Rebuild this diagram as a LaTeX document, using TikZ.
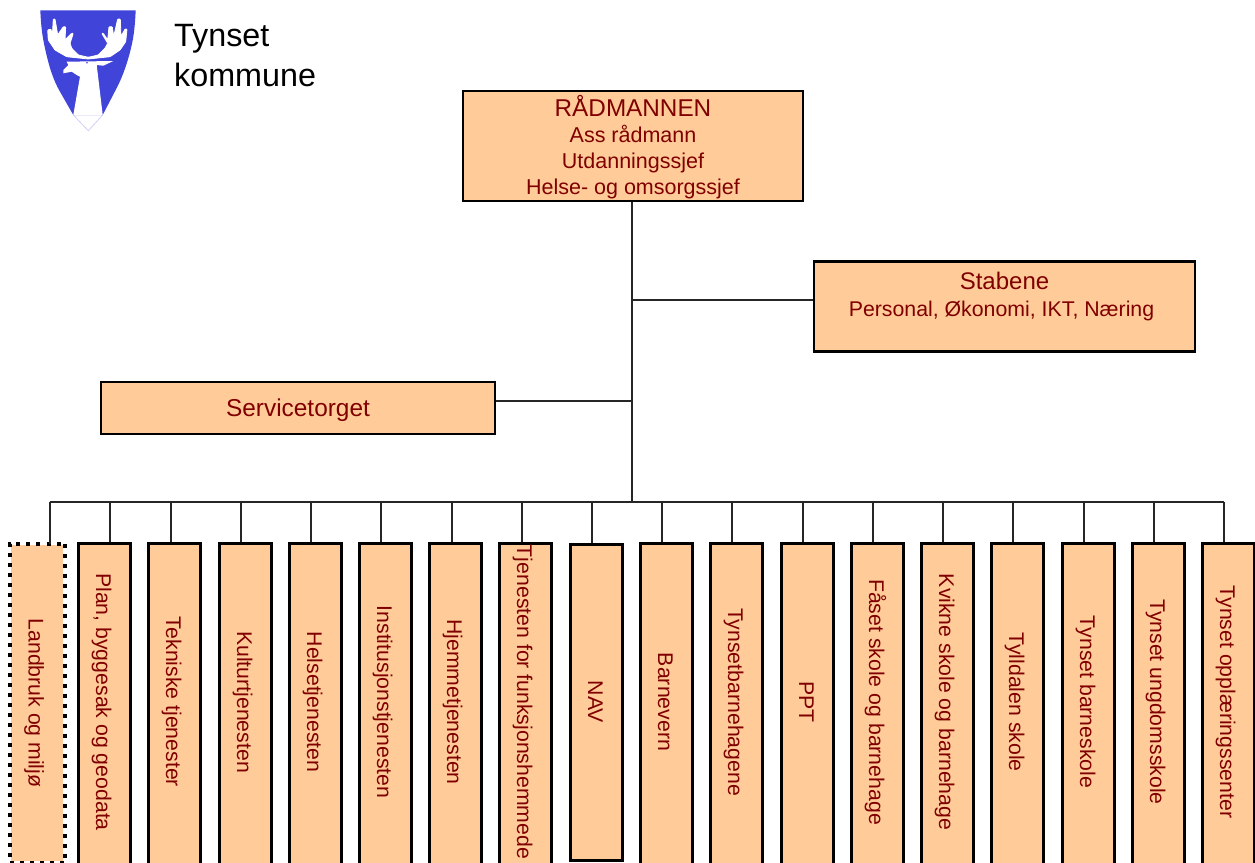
\documentclass[tikz,border=0pt]{standalone}
\usepackage{fontspec}
\setmainfont{Liberation Sans}
\definecolor{colorBox}{HTML}{FFCC99}
\definecolor{colorText}{HTML}{800000}
\definecolor{colorShield}{HTML}{4044D8}
\newcommand{\bartext}[1]{\makebox[318pt]{#1}\hspace*{30pt}}
\tikzset{
  headbox/.style={draw=black, fill=colorBox, text=colorText, line width=2.4pt, align=center, inner sep=0pt},
  bar/.style={draw=black, fill=colorBox, text=colorText, line width=3pt, rotate=-90, anchor=west, inner sep=0pt, minimum height=52pt, text height=17pt, text depth=0pt, font=\fontsize{21.25}{25}\selectfont},
  link/.style={line width=2pt, color=black!85}
}
\begin{document}
\begin{tikzpicture}[x=1pt, y=-1pt]
\useasboundingbox (0,0) rectangle (1255,862);
\clip (0,0) rectangle (1255,862);
% logo
\fill[colorShield] (40.3,10.3) -- (135.7,10.3) .. controls (135,25) and (134,35) .. (131.7,45) .. controls (128,62) and (122,78) .. (116.7,88) -- (102.7,115) -- (73.3,115) -- (60,91.7) .. controls (52,78) and (48,62) .. (45,48.3) .. controls (42,35) and (41,25) .. (40.3,10.3) -- cycle;
\draw[colorShield!25, line width=0.8pt] (73.3,115) -- (88.3,130.7) -- (102.7,115);
\filldraw[white, line width=0.8pt, rounded corners=0.8pt] (47.7,30) -- (51,29) -- (52.3,36.7) -- (53.3,19) -- (55,19) -- (57.7,35) -- (63.3,26.7) -- (65.7,26.7) -- (65,40) -- (71.7,33.3) -- (73.3,33.3) -- (70,43.3) -- (71.7,48.3) -- (78.3,55) -- (88.3,57.3) -- (98.3,55) -- (105,48.3) -- (107.7,43.3) -- (101.7,33.3) -- (103.3,33.3) -- (107.7,40) -- (109,26.7) -- (112.3,26.7) -- (113.7,36.7) -- (117.7,19) -- (120.3,19) -- (121,36.7) -- (125,29) -- (127,29) -- (125.7,41.7) -- (120,50) -- (110,56.7) -- (88.3,59) -- (66.7,56.7) -- (55,50) -- (48.3,40) -- cycle;
\fill[white] (66.7,61.7) -- (113.3,61) -- (103.3,65.7) -- (96.7,65) -- (102.7,115) -- (73.3,115) -- (80,76.7) -- (76.7,75) -- (71.7,71.7) -- (63.3,73.3) -- (63.3,70) -- (68.3,65) -- cycle;
\fill[colorShield] (87,62.7) circle (0.9);
\node[anchor=west, align=left, inner sep=0pt, font=\fontsize{32.3}{40}\selectfont] (kommune) at (174,56) {Tynset\\kommune};
% top boxes
\node[headbox, minimum width=340pt, minimum height=110pt, text depth=2pt, font=\fontsize{21.5}{26}\selectfont] (radmann) at (633,146) {{\fontsize{24.3}{26}\selectfont RÅDMANNEN}\\Ass rådmann\\Utdanningssjef\\Helse- og omsorgssjef};
\node[headbox, minimum width=381pt, minimum height=90pt, font=\fontsize{21.3}{27}\selectfont] (stab) at (1004.5,306.5) {{\fontsize{24}{27}\selectfont Stabene}\\Personal, Økonomi, IKT,~Næring\rule{6pt}{0pt}\\[-3pt]\mbox{}};
\node[headbox, minimum width=394pt, minimum height=52pt, text depth=1pt, font=\fontsize{24.4}{28}\selectfont] (service) at (298,408) {Servicetorget};
% bars
\node[bar, draw=none, minimum width=316pt] (landbruk) at (37,543.5) {\makebox[316pt]{Landbruk og miljø}};
\draw[black, line width=4pt, dash pattern=on 4pt off 6pt] (landbruk.north west) rectangle (landbruk.south east);
\node[bar] (plan) at (104.5,541.5) {\bartext{Plan, byggesak og geodata}};
\node[bar] (teknisk) at (174.5,541.5) {\bartext{Tekniske tjenester}};
\node[bar] (kultur) at (245.5,541.5) {\bartext{Kulturtjenesten}};
\node[bar] (helse) at (315.5,541.5) {\bartext{Helsetjenesten}};
\node[bar] (institusjon) at (385.5,541.5) {\bartext{Institusjonstjenesten}};
\node[bar] (hjemme) at (455.5,541.5) {\bartext{Hjemmetjenesten}};
\node[bar] (funksjon) at (525.5,541.5) {\bartext{Tjenesten for funksjonshemmede}};
\node[bar, minimum width=316pt] (nav) at (596.5,542.5) {\makebox[316pt]{NAV}};
\node[bar] (barnevern) at (666.5,541.5) {\bartext{Barnevern}};
\node[bar] (barnehage) at (736.5,541.5) {\bartext{Tynsetbarnehagene}};
\node[bar] (ppt) at (807.5,541.5) {\bartext{PPT}};
\node[bar] (faaset) at (877.5,541.5) {\bartext{Fåset skole og barnehage}};
\node[bar] (kvikne) at (947.5,541.5) {\bartext{Kvikne skole og barnehage}};
\node[bar] (tylldal) at (1017.5,541.5) {\bartext{Tylldalen skole}};
\node[bar] (barneskole) at (1088.5,541.5) {\bartext{Tynset barneskole}};
\node[bar] (ungdom) at (1158.5,541.5) {\bartext{Tynset ungdomsskole}};
\node[bar] (opplaering) at (1228.5,541.5) {\bartext{Tynset opplæringssenter}};
% lines
\coordinate (hub) at (632,502);
\coordinate (busl) at (50,502);
\coordinate (busr) at (1224,502);
\draw[link] (radmann.south -| hub) -- (hub);
\draw[link] (hub |- 0,300) -- (stab.west |- 0,300);
\draw[link] (hub |- 0,401) -- (service.east |- 0,401);
\draw[link] (busl) -- (busr);
\foreach \name/\xpos in {landbruk/50, plan/110, teknisk/171, kultur/241, helse/311, institusjon/381, hjemme/452, funksjon/522, nav/592, barnevern/662, barnehage/732, ppt/803, faaset/873, kvikne/943, tylldal/1013, barneskole/1084, ungdom/1154, opplaering/1224}
  \draw[link] (\xpos,502) -- (\xpos,502 |- \name.west);
\end{tikzpicture}
\end{document}
